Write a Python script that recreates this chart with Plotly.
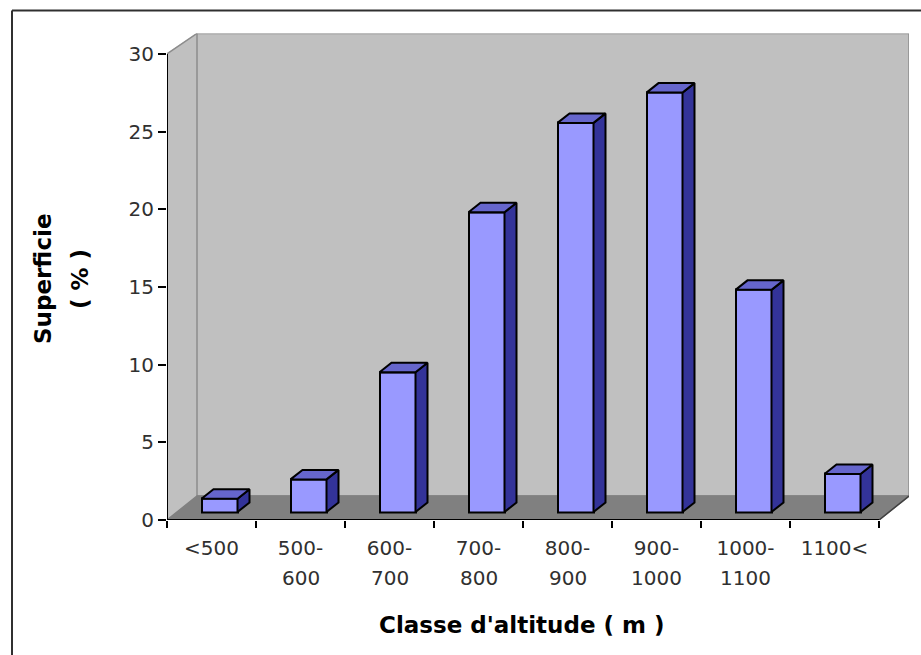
import plotly.graph_objects as go

# Data
line1_labels = ["<500", "500-", "600-", "700-", "800-", "900-", "1000-", "1100<"]
line2_labels = ["", "600", "700", "800", "900", "1000", "1100", ""]
superficie = [0.85, 2.1, 9.0, 19.3, 25.05, 27.0, 14.3, 2.45]
y_ticks = [0, 5, 10, 15, 20, 25, 30]

# Layout geometry (window pixels)
W, H = 921, 655
PX_L, PX_R, PX_T, PX_B = 167, 909, 33.5, 520
CAT_PX = 89.0
UNIT_PX = (520 - 54) / 30.0
FONT = "DejaVu Sans"

def fx(px):
    return (px - PX_L) / CAT_PX - 0.5

def fy(px):
    return (PX_B - px) / UNIT_PX

x_range = [fx(PX_L), fx(PX_R)]
y_range = [0, fy(PX_T)]
positions = list(range(len(superficie)))
bar_shift = 8 / CAT_PX
bar_w = 36 / CAT_PX
bar_base = 8 / UNIT_PX
dep_x = 12 / CAT_PX
dep_y = 9.5 / UNIT_PX

fig = go.Figure()
fig.add_trace(go.Bar(
    x=[p + bar_shift for p in positions], y=superficie, base=bar_base, width=bar_w,
    marker=dict(color="#9999FF", line=dict(color="#000000", width=2)),
    showlegend=False, hoverinfo="skip"))
for p, v in zip(positions, superficie):
    x0 = p + bar_shift - bar_w / 2
    x1 = p + bar_shift + bar_w / 2
    top = bar_base + v
    fig.add_trace(go.Scatter(
        x=[x1, x1 + dep_x, x1 + dep_x, x1, x1],
        y=[bar_base, bar_base + dep_y, top + dep_y, top, bar_base],
        mode="lines", fill="toself", fillcolor="#333399",
        line=dict(color="#000000", width=2), showlegend=False, hoverinfo="skip"))
    fig.add_trace(go.Scatter(
        x=[x0, x0 + dep_x, x1 + dep_x, x1, x0],
        y=[top, top + dep_y, top + dep_y, top, top],
        mode="lines", fill="toself", fillcolor="#6666CC",
        line=dict(color="#000000", width=2), showlegend=False, hoverinfo="skip"))

def poly(pts, fill, line):
    path = "M " + " L ".join(f"{fx(a)} {fy(b)}" for a, b in pts) + " Z"
    return dict(type="path", path=path, xref="x", yref="y", layer="below",
                fillcolor=fill, line=dict(color=line, width=1.5))

def seg(a, b, c, d, color, width):
    return dict(type="line", xref="x", yref="y", x0=fx(a), y0=fy(b), x1=fx(c), y1=fy(d),
                line=dict(color=color, width=width), layer="below")

shapes = [
    poly([(167, 54), (197, 33.5), (197, 496), (167, 520)], "#C0C0C0", "#C0C0C0"),
    poly([(197, 33.5), (909, 33.5), (909, 496), (197, 496)], "#C0C0C0", "#8C8C8C"),
    poly([(167, 520), (197, 496), (909, 496), (879, 520)], "#808080", "#808080"),
    seg(167, 54, 197, 33.5, "#8C8C8C", 1.5),
    seg(879, 520, 909, 496, "#404040", 1.5),
    seg(167, 520, 167, 54, "#000000", 2),
    seg(167, 520, 879, 520, "#000000", 2),
    dict(type="line", xref="paper", yref="paper", x0=12/W, x1=1, y0=1-10.5/H, y1=1-10.5/H,
         line=dict(color="#303030", width=2)),
    dict(type="line", xref="paper", yref="paper", x0=12/W, x1=12/W, y0=1-10.5/H, y1=0,
         line=dict(color="#303030", width=2)),
]

annotations = [
    dict(x=p, y=0, xref="x", yref="y", text=t, showarrow=False, yshift=-58, yanchor="middle",
         font=dict(family=FONT, size=20, color="#303030"))
    for p, t in zip(positions, line2_labels) if t
]
annotations += [
    dict(x=522/W, y=1-625/H, xref="paper", yref="paper", text="<b>Classe d'altitude ( m )</b>",
         xanchor="center", yanchor="middle",
         showarrow=False, font=dict(family=FONT, size=23, color="#000000")),
    dict(x=43/W, y=1-279/H, xref="paper", yref="paper", text="<b>Superficie</b>", textangle=-90,
         xanchor="center", yanchor="middle",
         showarrow=False, font=dict(family=FONT, size=23, color="#000000")),
    dict(x=80/W, y=1-279/H, xref="paper", yref="paper", text="<b>( % )</b>", textangle=-90,
         xanchor="center", yanchor="middle",
         showarrow=False, font=dict(family=FONT, size=23, color="#000000")),
]

fig.update_layout(
    width=W, height=H, margin=dict(l=0, r=0, t=0, b=0, pad=0, autoexpand=False), autosize=False,
    paper_bgcolor="#FFFFFF", plot_bgcolor="rgba(0,0,0,0)", showlegend=False,
    shapes=shapes, annotations=annotations, bargap=0,
    xaxis=dict(domain=[PX_L / W, PX_R / W], range=x_range, showgrid=False, zeroline=False,
               showline=False, tickmode="array", tickvals=positions, ticktext=line1_labels,
               ticks="", ticklen=0, tickangle=0, ticklabelstandoff=14,
               tickfont=dict(family=FONT, size=20, color="#303030"),
               minor=dict(tickmode="array", tickvals=[p - 0.5 for p in positions] + [positions[-1] + 0.5],
                          ticks="outside", ticklen=7, tickwidth=2, tickcolor="#000000", showgrid=False)),
    yaxis=dict(domain=[1 - PX_B / H, 1 - PX_T / H], range=y_range, showgrid=False, zeroline=False,
               showline=False, tickmode="array", tickvals=y_ticks, ticks="outside", ticklen=8,
               tickwidth=2, tickcolor="#000000",
               tickfont=dict(family=FONT, size=20, color="#303030")),
)

fig.write_html("out.html", config={"displayModeBar": False, "responsive": False},
               post_script="document.body.style.margin='0';document.documentElement.style.overflow='hidden';")
